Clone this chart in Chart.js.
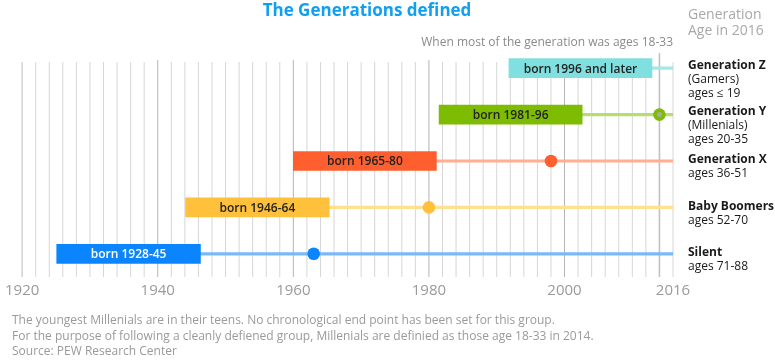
<!DOCTYPE html>
<html>
<head>
<meta charset="utf-8">
<script src="https://cdn.jsdelivr.net/npm/chart.js@4"></script>
<style>
  html, body { margin: 0; padding: 0; background: #fff; }
  #wrap { width: 775px; height: 360px; }
</style>
</head>
<body>
<div id="wrap"><canvas id="gen-chart" width="775" height="360"></canvas></div>
<script>
// generation rows, top to bottom
const generations = ['Generation Z', 'Generation Y', 'Generation X', 'Baby Boomers', 'Silent'];
const nicknames = ['(Gamers)', '(Millenials)', '', '', ''];
const ages2016 = ['ages \u2264 19', 'ages 20-35', 'ages 36-51', 'ages 52-70', 'ages 71-88'];
const birthLabels = ['born 1996 and later', 'born 1981-96', 'born 1965-80', 'born 1946-64', 'born 1928-45'];

// years when most of the generation was 18-33
const spanStart = [1991.8, 1981.5, 1960, 1944.1, 1925.1];
const spanEnd = [2012.9, 2002.6, 1981.1, 1965.3, 1946.3];
// dot = year marker on each row (none for Gen Z)
const dotYears = [null, 2014, 1998, 1980, 1963];
const lineEnd = 2016;
const xTicks = [1920, 1940, 1960, 1980, 2000, 2016];

const barColors = ['#80dfdf', '#7dbc00', '#ff5f2f', '#ffc03c', '#0b85fd'];
const lineColors = ['#a2e8e8', '#b6dd73', '#ffae91', '#ffdf90', '#78b9f7'];
const barTextColors = ['#222', '#222', '#222', '#222', '#fff'];

const FONT = '"Open Sans", "Noto Sans", sans-serif';

const dots = [];
const dotColors = [];
dotYears.forEach((yr, i) => {
    if (yr !== null) {
        dots.push({ x: yr, y: generations[i] });
        dotColors.push(barColors[i]);
    }
});

const decorations = {
    id: 'decorations',
    beforeDatasetsDraw(chart) {
        const ctx = chart.ctx;
        const area = chart.chartArea;
        const x = chart.scales.x;
        ctx.save();
        // vertical year grid, every 2 years
        for (let yr = 1920; yr <= 2016; yr += 2) {
            const px = x.getPixelForValue(yr);
            const major = (yr - 1920) % 20 === 0 && yr !== 1920;
            ctx.strokeStyle = major ? '#b4b4b4' : '#d6d6d6';
            ctx.lineWidth = (yr === 1920) ? 1.6 : 1;
            ctx.beginPath();
            ctx.moveTo(px, major ? area.top + 15 : area.top + 17);
            ctx.lineTo(px, area.bottom);
            ctx.stroke();
        }
        // 2014 reference line
        const px14 = x.getPixelForValue(2014);
        ctx.strokeStyle = '#c2c2c2';
        ctx.lineWidth = 1.6;
        ctx.beginPath();
        ctx.moveTo(px14, area.top + 8);
        ctx.lineTo(px14, area.bottom);
        ctx.stroke();
        ctx.restore();
    },
    afterDatasetsDraw(chart) {
        const ctx = chart.ctx;
        const area = chart.chartArea;
        const x = chart.scales.x;
        const y = chart.scales.y;
        ctx.save();
        ctx.textBaseline = 'middle';

        // text inside the bars
        const barMeta = chart.getDatasetMeta(1);
        ctx.font = '600 12px ' + FONT;
        ctx.textAlign = 'center';
        barMeta.data.forEach((bar, i) => {
            const cx = (x.getPixelForValue(spanStart[i]) + x.getPixelForValue(spanEnd[i])) / 2;
            ctx.fillStyle = barTextColors[i];
            ctx.fillText(birthLabels[i], cx, bar.y + 1);
        });

        // grey centre on the 2014 dot
        const yIdx = dotYears.indexOf(2014);
        if (yIdx >= 0) {
            ctx.fillStyle = '#a8a8a8';
            ctx.beginPath();
            ctx.arc(x.getPixelForValue(2014), y.getPixelForValue(yIdx), 2.5, 0, Math.PI * 2);
            ctx.fill();
        }

        // labels on the right
        ctx.textAlign = 'left';
        const lx = area.right + 15;
        generations.forEach((g, i) => {
            let ly = y.getPixelForValue(i) - 1;
            if (nicknames[i]) ly -= 2;
            ctx.fillStyle = '#1a1a1a';
            ctx.font = 'bold 12px ' + FONT;
            ctx.fillText(g, lx, ly);
            ctx.font = '12px ' + FONT;
            let line = 1;
            if (nicknames[i]) {
                ctx.fillText(nicknames[i], lx, ly + 14 * line);
                line++;
            }
            ctx.fillText(ages2016[i], lx, ly + 14 * line);
        });
        ctx.restore();
    },
    afterDraw(chart) {
        const ctx = chart.ctx;
        const area = chart.chartArea;
        ctx.save();
        ctx.textBaseline = 'middle';

        ctx.font = 'bold 17px ' + FONT;
        ctx.fillStyle = '#119ff0';
        ctx.textAlign = 'center';
        ctx.fillText('The Generations defined', 367, 11);

        ctx.font = '12px ' + FONT;
        ctx.fillStyle = '#8a8a8a';
        ctx.textAlign = 'right';
        ctx.fillText('When most of the generation was ages 18-33', area.right, 43);

        ctx.font = '14px ' + FONT;
        ctx.fillStyle = '#a8a8a8';
        ctx.textAlign = 'left';
        ctx.fillText('Generation', area.right + 15, 15);
        ctx.fillText('Age in 2016', area.right + 15, 31);

        ctx.font = '12px ' + FONT;
        ctx.fillStyle = '#9a9a9a';
        ctx.fillText('The youngest Millenials are in their teens. No chronological end point has been set for this group.', 12, 321);
        ctx.fillText('For the purpose of following a cleanly defiened group, Millenials are definied as those age 18-33 in 2014.', 12, 337);
        ctx.fillText('Source: PEW Research Center', 12, 352);
        ctx.restore();
    }
};

new Chart('gen-chart', {
    type: 'bar',
    data: {
        labels: generations,
        datasets: [
            {
                // marker dots
                type: 'line',
                data: dots,
                showLine: false,
                pointRadius: 6.3,
                pointHoverRadius: 6.3,
                pointBackgroundColor: dotColors,
                pointBorderWidth: 0,
                order: 0
            },
            {
                // main floating bars
                data: generations.map((g, i) => [spanStart[i], spanEnd[i]]),
                backgroundColor: barColors,
                barThickness: 19,
                grouped: false,
                order: 1
            },
            {
                // thin line from bar end to 2016
                data: generations.map((g, i) => [spanEnd[i], lineEnd]),
                backgroundColor: lineColors,
                barThickness: 2.5,
                grouped: false,
                order: 2
            }
        ]
    },
    options: {
        indexAxis: 'y',
        responsive: false,
        animation: false,
        layout: {
            padding: { left: 20, right: 102, top: 45, bottom: 55 }
        },
        scales: {
            x: {
                type: 'linear',
                min: 1920,
                max: 2016,
                afterBuildTicks: (axis) => {
                    axis.ticks = xTicks.map(v => ({ value: v }));
                },
                grid: { display: false, drawTicks: false },
                border: { display: false },
                ticks: {
                    padding: 5,
                    color: '#9a9a9a',
                    font: { family: FONT, size: 15 },
                    maxRotation: 0,
                    autoSkip: false,
                    callback: (v) => String(v)
                }
            },
            y: {
                display: false,
                offset: true
            }
        },
        plugins: {
            legend: { display: false },
            tooltip: { enabled: false }
        }
    },
    plugins: [decorations]
});
</script>
</body>
</html>
